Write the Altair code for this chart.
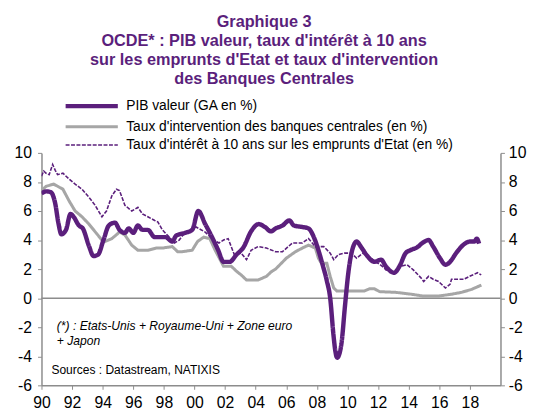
import altair as alt
import pandas as pd

PURPLE = "#5B1F7C"
GRAY = "#A6A6A6"
AXIS = "#8C8C8C"
FONT = "Liberation Sans"

S1 = "PIB valeur (GA en %)"
S2 = "Taux d'intervention des banques centrales (en %)"
S3 = "Taux d'intérêt à 10 ans sur les emprunts d'Etat (en %)"

pib_years = [1990.0, 1990.3, 1990.6, 1990.9, 1991.1, 1991.3, 1991.6, 1991.9, 1992.1, 1992.45,
             1992.7, 1993.1, 1993.4, 1993.7, 1994.05, 1994.4, 1994.8, 1995.1, 1995.45, 1995.7,
             1996.0, 1996.3, 1996.6, 1996.95, 1997.4, 1997.8, 1998.1, 1998.55, 1998.8, 1999.4,
             1999.85, 2000.25, 2000.7, 2001.1, 2001.55, 2001.9, 2002.3, 2002.75, 2003.2, 2003.7,
             2004.2, 2004.6, 2005.0, 2005.3, 2005.75, 2006.2, 2006.5, 2007.05, 2007.45, 2007.8,
             2008.1, 2008.4, 2008.65, 2008.87, 2009.08, 2009.2, 2009.32, 2009.45, 2009.62, 2009.83,
             2010.05, 2010.26, 2010.6, 2010.9, 2011.3, 2011.75, 2012.2, 2012.5, 2013.05, 2013.4,
             2013.8, 2014.1, 2014.55, 2014.9, 2015.3, 2015.6, 2016.05, 2016.4, 2016.7, 2017.1,
             2017.55, 2018.0, 2018.3, 2018.45, 2018.6]
pib_vals = [7.2, 7.35, 7.3, 6.5, 5.2, 4.4, 4.7, 5.8, 5.6, 5.0,
            4.8, 3.6, 2.9, 3.0, 4.0, 5.0, 5.2, 4.7, 4.5, 4.8,
            4.5, 5.0, 4.7, 4.7, 4.2, 4.2, 4.2, 3.9, 4.3, 4.5,
            4.7, 6.0, 5.1, 4.3, 3.3, 2.5, 2.5, 3.0, 3.5, 4.6,
            5.1, 4.9, 4.6, 4.8, 5.0, 5.35, 5.0, 4.9, 4.8, 4.2,
            3.3, 2.2, 1.2, 0.0, -2.5, -3.6, -4.1, -3.9, -3.0, -0.6,
            1.7, 3.1, 3.9, 3.5, 2.9, 2.5, 2.65, 2.2, 1.75, 2.2,
            3.1, 3.3, 3.5, 3.8, 4.0, 3.55, 2.75, 2.3, 2.5, 3.1,
            3.65, 3.9, 3.9, 4.1, 3.75]

cb_years = [1990.0, 1990.3, 1990.8, 1991.4, 1991.8, 1992.2, 1992.65, 1993.1, 1993.6, 1993.95,
            1994.15, 1994.6, 1995.1, 1995.45, 1995.9, 1996.3, 1996.95, 1997.5, 1997.9, 1998.55,
            1998.9, 1999.2, 1999.85, 2000.2, 2000.6, 2001.0, 2001.35, 2001.7, 2001.9, 2002.4,
            2002.75, 2003.05, 2003.4, 2004.15, 2004.7, 2005.0, 2005.3, 2006.0, 2006.6, 2007.05,
            2007.45, 2007.9, 2008.1, 2008.3, 2008.65, 2008.87, 2009.1, 2009.3, 2011.1, 2011.45,
            2011.75, 2012.1, 2013.15, 2014.2, 2014.9, 2015.95, 2016.8, 2017.45, 2018.1, 2018.75]
cb_vals = [7.4, 7.7, 7.85, 7.5, 6.7, 6.0, 5.6, 5.1, 4.45, 4.0,
           3.9, 4.1, 4.55, 4.35, 3.65, 3.3, 3.3, 3.45, 3.45, 3.55,
           3.2, 3.2, 3.3, 3.9, 4.2, 4.1, 3.3, 2.6, 2.2, 2.2,
           1.85, 1.6, 1.25, 1.25, 1.5, 1.8, 2.0, 2.75, 3.2, 3.45,
           3.65, 3.45, 2.75, 2.4, 2.4, 1.5, 0.7, 0.5, 0.5, 0.65,
           0.65, 0.45, 0.4, 0.27, 0.15, 0.15, 0.27, 0.4, 0.6, 0.9]

ten_years = [1990.0, 1990.15, 1990.3, 1990.5, 1990.73, 1990.9, 1991.05, 1991.4, 1991.8, 1992.2,
             1992.65, 1993.1, 1993.5, 1993.95, 1994.25, 1994.6, 1994.9, 1995.1, 1995.45, 1995.9,
             1996.3, 1996.6, 1996.95, 1997.4, 1997.6, 1997.9, 1998.35, 1998.7, 1999.0, 1999.4,
             2000.1, 2000.7, 2001.25, 2001.6, 2001.9, 2002.2, 2002.6, 2003.05, 2003.4, 2003.7,
             2004.15, 2004.7, 2005.3, 2005.75, 2006.4, 2007.05, 2007.45, 2007.9, 2008.45, 2008.87,
             2009.1, 2009.4, 2009.8, 2010.25, 2010.6, 2011.0, 2011.55, 2012.0, 2012.4, 2012.5,
             2013.05, 2013.5, 2013.9, 2014.3, 2014.8, 2014.98, 2015.3, 2015.6, 2015.95, 2016.4,
             2016.7, 2016.8, 2017.2, 2017.6, 2017.97, 2018.3, 2018.5, 2018.74]
ten_vals = [8.4, 8.75, 8.6, 8.5, 9.2, 8.8, 8.5, 8.6, 8.2, 7.85,
            7.5, 6.95, 6.4, 5.6, 6.0, 7.05, 7.5, 7.4, 6.4, 6.0,
            6.25, 5.8, 5.6, 5.35, 5.25, 4.7, 4.2, 3.8, 4.0, 4.55,
            4.9, 4.55, 4.0, 3.8, 4.0, 4.1, 3.0, 3.1, 2.65, 3.3,
            3.55, 3.45, 3.2, 3.2, 3.8, 3.8, 4.1, 3.55, 3.55, 3.1,
            2.65, 3.0, 3.1, 3.1, 2.75, 3.1, 2.75, 2.4, 2.1, 1.95,
            1.75, 2.2, 2.3, 1.95, 1.4, 1.15, 1.5, 1.3, 1.15, 0.7,
            0.95, 1.3, 1.3, 1.3, 1.5, 1.65, 1.75, 1.6]

title_lines = ["Graphique 3",
               "OCDE*  : PIB valeur, taux d'intérêt à 10 ans",
               "sur les emprunts d'Etat et taux d'intervention",
               "des Banques Centrales"]
note_lines = ["(*) : Etats-Unis + Royaume-Uni  + Zone euro", "+ Japon"]
note_x = [1991.0, 1991.0]
note_y = [-1.9, -2.95]
source_text = ["Sources  : Datastream,  NATIXIS"]
source_x = [1990.65]
source_y = [-4.95]

x_ticks = list(range(1990, 2019, 2))
y_ticks = list(range(-6, 11, 2))

rows = []
for name, ys, vs in [(S1, pib_years, pib_vals), (S2, cb_years, cb_vals), (S3, ten_years, ten_vals)]:
    for yr, v in zip(ys, vs):
        rows.append({"series": name, "year": yr, "value": v})
df = pd.DataFrame(rows)

domain = [S1, S2, S3]
legend = alt.Legend(title=None, orient="none", legendX=22, legendY=-55,
                    symbolType="M-1,0H9.6", symbolSize=100, labelFontSize=14,
                    labelFont=FONT, labelColor="black", labelOffset=49,
                    rowPadding=4.5, labelLimit=450)
color = alt.Color("series:N", scale=alt.Scale(domain=domain, range=[PURPLE, GRAY, PURPLE]), legend=legend)
swidth = alt.StrokeWidth("series:N", scale=alt.Scale(domain=domain, range=[4.5, 1.6, 1.4]), legend=legend)
sdash = alt.StrokeDash("series:N", scale=alt.Scale(domain=domain, range=[[1, 0], [1, 0], [4, 1.5]]), legend=legend)

x_scale = alt.Scale(domain=[1990, 2020], nice=False, zero=False)
x_axis = alt.Axis(values=x_ticks, labelExpr="slice(toString(datum.value), 2)",
                  grid=False, domainColor=AXIS, tickColor=AXIS, tickSize=4,
                  domainWidth=1.5, labelFontSize=16, labelFont=FONT, labelColor="black",
                  labelPadding=6, title=None, labelFlush=False, labelOverlap=False)
x_enc = alt.X("year:Q", scale=x_scale, axis=x_axis)
y_scale = alt.Scale(domain=[-6, 10], nice=False)
left_axis = alt.Axis(orient="left", values=y_ticks, grid=False, domainColor=AXIS, tickColor=AXIS,
                     tickSize=4, domainWidth=1.5, labelFontSize=16, labelFont=FONT,
                     labelColor="black", labelPadding=6, title=None,
                     labelExpr="toString(datum.value)")
right_axis = alt.Axis(orient="right", values=y_ticks, grid=False, domainColor=AXIS, tickColor=AXIS,
                      tickSize=4, domainWidth=1.5, labelFontSize=16, labelFont=FONT,
                      labelColor="black", labelPadding=4, title=None,
                      labelExpr="toString(datum.value)")

base = alt.Chart(df)

def series_layer(name, interp, axis):
    return base.transform_filter(alt.datum.series == name).mark_line(interpolate=interp, clip=True).encode(
        x=x_enc,
        y=alt.Y("value:Q", scale=y_scale, axis=axis),
        color=color, strokeWidth=swidth, strokeDash=sdash,
    )

gray_layer = series_layer(S2, "linear", left_axis)
ten_layer = series_layer(S3, "linear", None)
pib_layer = series_layer(S1, "monotone", None)

zero = alt.Chart(pd.DataFrame({"v": [0]})).mark_rule(color=AXIS, strokeWidth=1.5).encode(
    y=alt.Y("v:Q", scale=y_scale, axis=right_axis))

notes = alt.Chart(pd.DataFrame({"year": note_x, "y": note_y, "t": note_lines})).mark_text(
    align="left", baseline="middle", fontSize=12.3, font=FONT, fontStyle="italic", color="black"
).encode(x=x_enc, y=alt.Y("y:Q", scale=y_scale, axis=None), text="t:N")

sources = alt.Chart(pd.DataFrame({"year": source_x, "y": source_y, "t": source_text})).mark_text(
    align="left", baseline="middle", fontSize=12.2, font=FONT, color="black"
).encode(x=x_enc, y=alt.Y("y:Q", scale=y_scale, axis=None), text="t:N")

chart = alt.layer(gray_layer, zero, ten_layer, pib_layer, notes, sources).resolve_axis(
    y="independent"
).properties(
    width=466, height=236,
    padding={"left": 34, "top": 144, "right": 33, "bottom": 26},
    autosize="none",
    title=alt.TitleParams(text=title_lines, fontSize=16.5, fontWeight="bold", color=PURPLE,
                          font=FONT, anchor="middle", offset=11, lineHeight=19.5, dx=-7),
).configure_view(stroke=None)

chart.save("out.html", embed_options={"renderer": "svg", "actions": False})
